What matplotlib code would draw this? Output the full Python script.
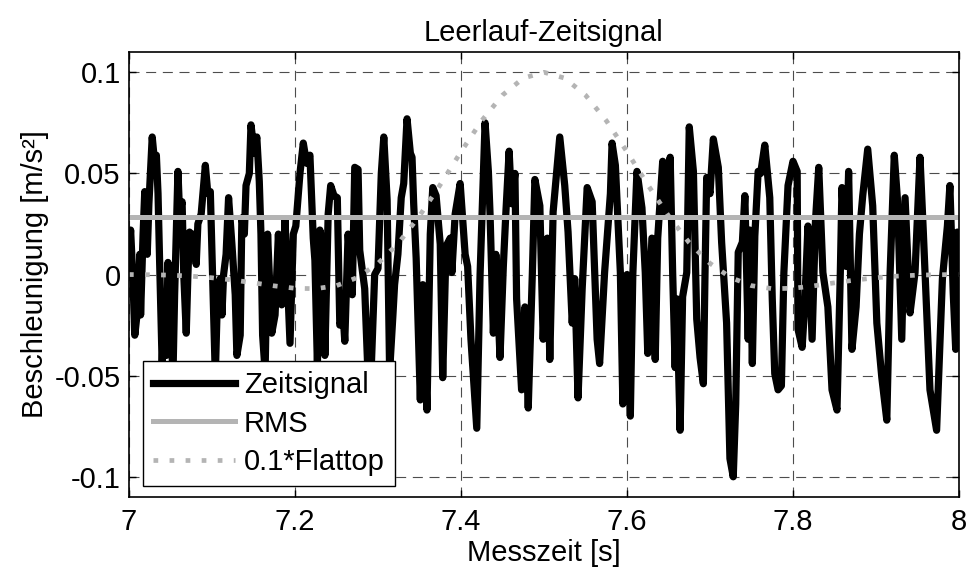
import numpy as np
import matplotlib.pyplot as plt

plt.rcParams['font.family'] = ['Liberation Sans', 'DejaVu Sans']

# Zeitsignal: Zeit in ms nach 7 s, Beschleunigung in m/s²
t_ms = [0, 2, 5, 7, 11, 13, 14, 17, 19, 22, 24, 28, 31, 33, 35, 37, 40, 42, 45, 47,
        49, 53, 55, 59, 61, 64, 66, 69, 71, 73, 76, 78, 81, 83, 87, 92, 95, 98, 100, 104,
        106, 110, 112, 114, 117, 120, 124, 128, 130, 134, 136, 139, 141, 145, 147, 151, 154, 157, 159, 161,
        164, 167, 172, 176, 180, 184, 188, 194, 198, 201, 206, 210, 214, 218, 222, 224, 227, 230, 234, 236,
        240, 243, 247, 251, 254, 258, 260, 264, 269, 272, 276, 278, 284, 288, 292, 296, 300, 304, 307, 311,
        314, 318, 320, 324, 328, 331, 335, 339, 341, 343, 346, 351, 354, 359, 363, 366, 370, 375, 378, 382,
        387, 389, 393, 399, 405, 408, 412, 419, 423, 429, 433, 435, 439, 442, 447, 451, 454, 458, 461, 465,
        467, 473, 477, 481, 486, 489, 495, 499, 504, 507, 511, 514, 519, 525, 529, 534, 537, 541, 546, 552,
        558, 564, 567, 573, 580, 582, 586, 592, 595, 600, 604, 607, 612, 618, 622, 625, 630, 634, 637, 643,
        647, 652, 655, 658, 660, 664, 667, 672, 675, 680, 684, 688, 692, 694, 696, 700, 704, 710, 714, 720,
        724, 728, 731, 734, 739, 742, 746, 748, 751, 754, 758, 761, 766, 772, 775, 778, 782, 786, 789, 794,
        800, 805, 806, 811, 814, 818, 823, 827, 831, 836, 842, 847, 853, 857, 859, 864, 867, 871, 876, 880,
        884, 890, 896, 901, 907, 913, 917, 922, 926, 931, 935, 941, 947, 953, 957, 965, 973, 980, 986, 989,
        993, 996, 998, 1000]
a_sig = [0.010, 0.022, -0.005, -0.030, -0.015, 0.010, -0.020, 0.020, 0.041, 0.010,
         0.035, 0.068, 0.055, 0.059, 0.040, 0.005, -0.045, -0.020, -0.040, 0.006,
         -0.010, -0.050, -0.010, 0.051, 0.030, 0.036, 0.000, -0.029, 0.000, 0.021,
         0.009, 0.020, 0.005, 0.025, 0.030, 0.054, 0.040, 0.041, 0.010, -0.050,
         -0.020, -0.002, -0.020, 0.000, 0.010, 0.038, 0.015, -0.010, -0.040, -0.030,
         0.028, 0.020, 0.044, 0.050, 0.074, 0.060, 0.068, 0.046, 0.020, -0.030,
         -0.048, 0.020, -0.029, -0.020, 0.020, -0.015, 0.027, -0.034, 0.020, 0.024,
         0.050, 0.065, 0.055, 0.059, 0.018, 0.007, -0.045, 0.022, 0.014, -0.040,
         0.030, 0.044, 0.039, 0.038, -0.025, -0.020, -0.033, 0.020, -0.010, 0.053,
         0.052, 0.012, -0.007, -0.050, -0.045, 0.000, 0.003, 0.050, 0.068, 0.037,
         -0.048, -0.020, -0.005, 0.010, 0.038, 0.045, 0.077, 0.060, 0.058, 0.035,
         0.008, -0.062, -0.005, -0.067, 0.020, 0.043, 0.039, 0.015, -0.051, 0.014,
         0.018, 0.001, 0.030, 0.045, 0.010, 0.004, -0.032, -0.076, 0.000, 0.075,
         0.051, 0.030, -0.029, 0.010, -0.041, 0.004, 0.030, 0.061, 0.035, 0.050,
         -0.012, -0.057, -0.016, -0.066, 0.001, 0.047, 0.034, -0.032, 0.018, -0.042,
         0.031, 0.045, 0.068, 0.044, 0.021, -0.024, -0.002, -0.061, -0.007, 0.043,
         0.036, -0.032, -0.044, 0.001, 0.040, 0.065, 0.054, 0.001, -0.064, 0.000,
         -0.070, 0.000, 0.051, 0.033, 0.001, -0.039, 0.018, -0.042, 0.018, 0.056,
         0.030, 0.058, 0.001, -0.046, -0.012, -0.077, -0.011, 0.001, 0.073, 0.051,
         -0.022, -0.041, -0.054, 0.001, 0.048, 0.040, 0.067, 0.053, 0.016, -0.024,
         -0.091, -0.100, -0.064, 0.011, 0.016, 0.039, -0.032, 0.022, -0.044, 0.019,
         0.051, 0.050, 0.064, 0.038, -0.012, -0.049, -0.057, -0.055, 0.001, 0.044,
         0.056, 0.051, -0.027, -0.036, -0.016, 0.024, -0.032, 0.026, 0.053, 0.001,
         -0.016, -0.057, -0.067, 0.001, 0.043, 0.004, 0.051, -0.037, -0.016, 0.020,
         0.039, 0.062, 0.034, -0.024, -0.051, -0.072, 0.001, 0.059, 0.036, -0.032,
         0.038, -0.019, 0.001, 0.058, 0.021, -0.057, -0.077, -0.002, 0.024, 0.044,
         -0.009, -0.037, 0.021, 0.001]

rms = 0.0284

t_flat_ms = np.arange(0, 1001, 25)
flat = [0.0, -0.0001, -0.0003, -0.0008, -0.0016, -0.0027, -0.0041, -0.0056, -0.0068, -0.0070,
        -0.0055, -0.0015, 0.0055, 0.0157, 0.0290, 0.0444, 0.0607, 0.0761, 0.0887, 0.0971,
        0.1000,
        0.0971, 0.0887, 0.0761, 0.0607, 0.0444, 0.0290, 0.0157, 0.0055, -0.0015, -0.0055,
        -0.0070, -0.0068, -0.0056, -0.0041, -0.0027, -0.0016, -0.0008, -0.0003, -0.0001, 0.0]

t_sig = 7 + np.array(t_ms) / 1000
t_flat = 7 + t_flat_ms / 1000

fig = plt.figure(figsize=(9.69, 5.77), dpi=100)
ax = fig.add_axes([0.1331, 0.1386, 0.8566, 0.7712])

ax.plot(t_sig, a_sig, color='k', lw=5.2, label='Zeitsignal')
ax.plot([7, 8], [rms, rms], color='#b4b4b4', lw=3.6, label='RMS')
ax.plot(t_flat, flat, color='#b4b4b4', lw=3.4, ls=(0, (1, 2.4)), label='0.1*Flattop')

ax.set_xlim(7, 8)
ax.set_ylim(-0.11, 0.11)
ax.set_xticks([7, 7.2, 7.4, 7.6, 7.8, 8])
ax.set_xticklabels(['7', '7.2', '7.4', '7.6', '7.8', '8'])
ax.set_yticks([-0.1, -0.05, 0, 0.05, 0.1])
ax.set_yticklabels(['-0.1', '-0.05', '0', '0.05', '0.1'])
ax.grid(True, color='0.3', ls=(0, (9, 6)), lw=0.8)
ax.tick_params(direction='in', length=5, top=True, right=True, labelsize=21, width=1)
ax.tick_params(axis='x', pad=8)
ax.tick_params(axis='y', pad=6)
for s in ax.spines.values():
    s.set_linewidth(1.2)

ax.set_title('Leerlauf-Zeitsignal', fontsize=21, pad=8)
ax.set_xlabel('Messzeit [s]', fontsize=21, labelpad=2)
ax.set_ylabel('Beschleunigung [m/s²]', fontsize=21, labelpad=4)

leg = ax.legend(loc='lower left', bbox_to_anchor=(0.0169, 0.0247), borderaxespad=0,
                fontsize=21, handlelength=2.8, handletextpad=0.3, borderpad=0.35,
                labelspacing=0.35, fancybox=False, edgecolor='k', framealpha=1)
leg.get_frame().set_linewidth(1)

fig.savefig('out.png', dpi=100)
